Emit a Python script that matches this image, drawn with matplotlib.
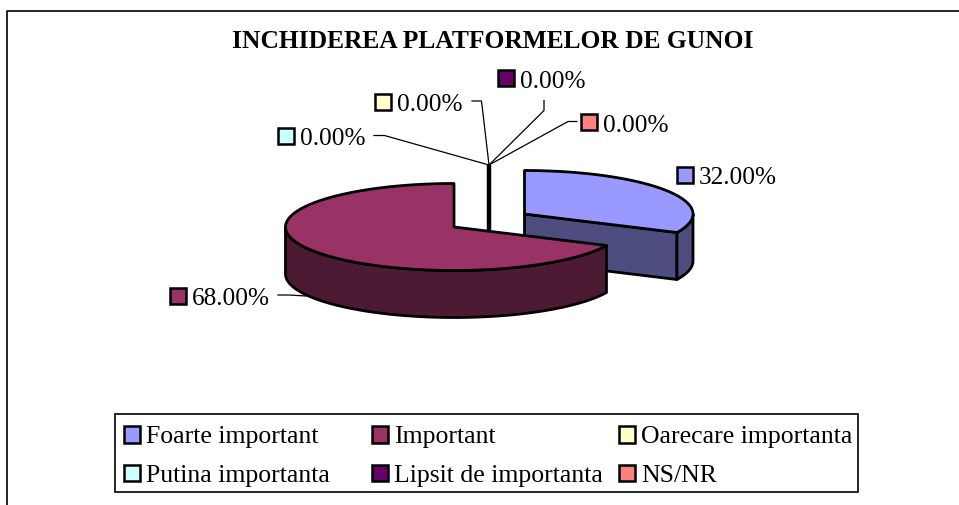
import numpy as np
import matplotlib
matplotlib.use('Agg')
import matplotlib.pyplot as plt
from matplotlib.patches import Polygon, Rectangle

categories = ['Foarte important', 'Important', 'Oarecare importanta',
              'Putina importanta', 'Lipsit de importanta', 'NS/NR']
shares = [32.0, 68.0, 0.0, 0.0, 0.0, 0.0]
top_colors = ['#9999ff', '#993366', '#ffffcc', '#ccffff', '#660066', '#ff8080']
side_colors = ['#4d4d80', '#4d1a33']

plt.rcParams['font.family'] = ['Liberation Serif', 'DejaVu Serif']

fig = plt.figure(figsize=(9.59, 5.06), dpi=100)
ax = fig.add_axes([0, 0, 1, 1])
ax.set_xlim(0, 959)
ax.set_ylim(506, 0)
ax.axis('off')

rx = 168.5
ry = 43.5
depth = 47


def rim(cx, cy, start, stop):
    # angles in degrees clockwise from 12 o'clock
    th = np.radians(np.linspace(start, stop, 200))
    return np.column_stack([cx + rx * np.sin(th), cy - ry * np.cos(th)])


def draw_slice(cx, cy, start, stop, top, side, zorder):
    # cut face at the closing edge, seen only when that edge points at the viewer
    if 90 < stop < 270:
        end = rim(cx, cy, stop, stop)[0]
        cut = np.array([[cx, cy], end, end + [0, depth], [cx, cy + depth]])
        ax.add_patch(Polygon(cut, fc=side, ec='black', lw=2, joinstyle='round', zorder=zorder))
    # outer wall, only the part facing the viewer
    w0 = max(start, 90)
    w1 = min(stop, 270)
    wall = rim(cx, cy, w0, w1)
    wall = np.vstack([wall, wall[::-1] + [0, depth]])
    ax.add_patch(Polygon(wall, fc=side, ec='black', lw=2, joinstyle='round', zorder=zorder))
    face = np.vstack([[[cx, cy]], rim(cx, cy, start, stop)])
    ax.add_patch(Polygon(face, fc=top, ec='black', lw=2, joinstyle='round', zorder=zorder + 0.5))


# frame of the chart area, only top and left are in the picture
ax.plot([6.5, 6.5, 959], [506, 11.5, 11.5], color='black', lw=1.2, zorder=1)

ax.text(493, 41.5, 'INCHIDEREA PLATFORMELOR DE GUNOI', fontsize=18.35, fontweight='bold',
        ha='center', va='center', color='black')

angles = np.cumsum([0] + shares) * 3.6

# the empty slices collapse to one thick edge standing behind the pie
ax.plot([489, 489], [166, 234], color='black', lw=3.2, solid_capstyle='butt', zorder=3)

draw_slice(524.5, 215, angles[0], angles[1], top_colors[0], side_colors[0], 2)
draw_slice(454, 228, angles[1], angles[2], top_colors[1], side_colors[1], 4)

# leader lines
leader_x = [[278, 289, 306], [472, 481.5, 489], [374, 384.5, 489], [544, 544, 489], [577, 568, 489]]
leader_y = [[296, 296, 297], [102, 102, 166], [136.5, 136.5, 166], [101.5, 111.5, 166], [122.5, 122.5, 166]]
for lx, ly in zip(leader_x, leader_y):
    ax.plot(lx, ly, color='black', lw=0.9, zorder=3)

# data labels: marker left edge and vertical centre for each category
label_x = [677, 170, 375, 278, 498, 581]
label_y = [175.5, 296.5, 102.5, 136.5, 79, 123]
for i, val in enumerate(shares):
    ax.add_patch(Rectangle((label_x[i], label_y[i] - 8), 16, 16, fc=top_colors[i], ec='black', lw=1.8, zorder=5))
    ax.text(label_x[i] + 22, label_y[i], f'{val:.2f}%', fontsize=18.2, ha='left', va='center_baseline', zorder=5)

# legend box
ax.add_patch(Rectangle((115, 414.5), 743, 78.5, fc='white', ec='black', lw=1.2, zorder=5))
col_x = [123.5, 371.5, 618.5]
row_y = [435, 473.5]
for i, name in enumerate(categories):
    x = col_x[i % 3]
    y = row_y[i // 3]
    ax.add_patch(Rectangle((x, y - 8), 16.5, 16.5, fc=top_colors[i], ec='black', lw=1.8, zorder=6))
    ax.text(x + 22.5, y, name, fontsize=18.55, ha='left', va='center_baseline', zorder=6)

fig.savefig('out.png', dpi=100)
